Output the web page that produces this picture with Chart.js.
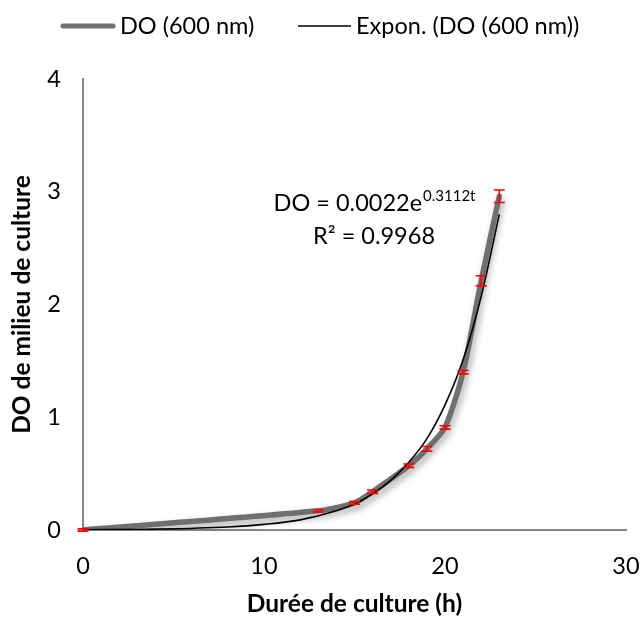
<!DOCTYPE html>
<html><head><meta charset="utf-8">
<script src="https://cdn.jsdelivr.net/npm/chart.js@4/dist/chart.umd.min.js"></script>
<style>html,body{margin:0;padding:0;background:#fff}#wrap{width:642px;height:619px;position:relative}</style>
</head><body><div id="wrap"><canvas id="c"></canvas></div>
<script>
// ---- data ----
const hours = [0, 13, 15, 16, 18, 19, 20, 21, 22, 23];
const odValues = [0, 0.17, 0.24, 0.34, 0.57, 0.72, 0.91, 1.40, 2.21, 2.96];
const odErrors = [0.01, 0.01, 0.012, 0.015, 0.015, 0.02, 0.015, 0.015, 0.045, 0.055];
const trendHours = [0, 4, 8, 10, 12, 14, 15, 16, 17, 18, 19, 20, 21, 22, 23];
const trendValues = [0.002, 0.008, 0.027, 0.05, 0.09, 0.17, 0.23, 0.32, 0.44, 0.6, 0.81, 1.11, 1.51, 2.07, 2.8];
const xTicks = [0, 10, 20, 30];
const yTicks = [0, 1, 2, 3, 4];
const seriesNames = ['DO (600 nm)', 'Expon. (DO (600 nm))'];
const xTitle = 'Durée de culture (h)';
const yTitle = 'DO de milieu de culture';
const eqMain = 'DO = 0.0022e';
const eqSup = '0.3112t';
const eqR2 = 'R² = 0.9968';

const FONT = 'Lato, "Open Sans", sans-serif';
const FS = 23.5;
const FT = 24.5;
Chart.defaults.font.family = FONT;
Chart.defaults.font.size = FS;
Chart.defaults.color = '#000';

const odPoints = hours.map((h, i) => ({x: h, y: odValues[i]}));
const trendPoints = trendHours.map((h, i) => ({x: h, y: trendValues[i]}));

const shadowPlugin = {
  id: 'shadow',
  beforeDatasetDraw(chart, args) {
    if (args.index === 0) {
      const ctx = chart.ctx; ctx.save();
      ctx.shadowColor = 'rgba(0,0,0,0.35)';
      ctx.shadowBlur = 7; ctx.shadowOffsetX = 2; ctx.shadowOffsetY = 4;
    }
  },
  afterDatasetDraw(chart, args) {
    if (args.index === 0) chart.ctx.restore();
  }
};

const errorBarPlugin = {
  id: 'errorBars',
  afterDatasetsDraw(chart) {
    const ctx = chart.ctx, xs = chart.scales.x, ys = chart.scales.y;
    ctx.save();
    ctx.strokeStyle = '#ff0000'; ctx.lineWidth = 1.6;
    hours.forEach((h, i) => {
      const px = xs.getPixelForValue(h);
      const top = ys.getPixelForValue(odValues[i] + odErrors[i]);
      const bot = ys.getPixelForValue(odValues[i] - odErrors[i]);
      ctx.beginPath();
      ctx.moveTo(px, top); ctx.lineTo(px, bot);
      ctx.moveTo(px - 5.5, top); ctx.lineTo(px + 5.5, top);
      ctx.moveTo(px - 5.5, bot); ctx.lineTo(px + 5.5, bot);
      ctx.stroke();
    });
    ctx.restore();
  }
};

const annotPlugin = {
  id: 'annot',
  afterDraw(chart) {
    const ctx = chart.ctx, a = chart.chartArea;
    ctx.save();
    ctx.fillStyle = '#000';
    ctx.textBaseline = 'middle';
    // equation
    ctx.font = FS + 'px ' + FONT;
    const w1 = ctx.measureText(eqMain).width;
    ctx.font = '15px ' + FONT;
    const w2 = ctx.measureText(eqSup).width;
    const cx = a.left + (a.right - a.left) * 0.536;
    const x0 = cx - (w1 + w2) / 2;
    const y1 = a.top + 124;
    ctx.font = FS + 'px ' + FONT;
    ctx.textAlign = 'left';
    ctx.fillText(eqMain, x0, y1);
    ctx.font = '15px ' + FONT;
    ctx.fillText(eqSup, x0 + w1 + 1, y1 - 7);
    ctx.font = FS + 'px ' + FONT;
    ctx.textAlign = 'center';
    ctx.fillText(eqR2, cx, y1 + 33);
    // legend
    const ly = 26;
    ctx.lineCap = 'round';
    ctx.strokeStyle = '#6f6f6f'; ctx.lineWidth = 5;
    ctx.beginPath(); ctx.moveTo(63, ly); ctx.lineTo(113, ly); ctx.stroke();
    ctx.lineCap = 'butt';
    ctx.strokeStyle = '#000'; ctx.lineWidth = 1.5;
    ctx.beginPath(); ctx.moveTo(298, ly); ctx.lineTo(351, ly); ctx.stroke();
    ctx.textAlign = 'left';
    ctx.fillText(seriesNames[0], 120, ly);
    ctx.fillText(seriesNames[1], 356, ly);
    ctx.restore();
  }
};

new Chart(document.getElementById('c'), {
  type: 'line',
  data: {
    datasets: [
      {label: seriesNames[0], data: odPoints, borderColor: '#6f6f6f', borderWidth: 5.5,
       pointRadius: 0, tension: 0.25, borderCapStyle: 'round', borderJoinStyle: 'round', order: 2},
      {label: seriesNames[1], data: trendPoints, borderColor: '#000', borderWidth: 1.6,
       pointRadius: 0, cubicInterpolationMode: 'monotone', order: 1}
    ]
  },
  options: {
    responsive: true, maintainAspectRatio: false, animation: false,
    layout: {padding: {top: 79, right: 16, left: 0, bottom: 0}},
    plugins: {legend: {display: false}, tooltip: {enabled: false}},
    scales: {
      x: {type: 'linear', min: 0, max: 30,
        afterBuildTicks(s) { s.ticks = xTicks.map(v => ({value: v})); },
        ticks: {padding: 22, color: '#000', font: {size: FS}, maxRotation: 0},
        grid: {display: false, drawTicks: false},
        border: {display: true, color: '#868686', width: 2},
        title: {display: true, text: xTitle, font: {size: FT, weight: 'bold'}, color: '#000', padding: {top: 0, bottom: 0}},
        afterFit(s) { s.height = 89; s.paddingRight = 0; s.paddingLeft = 0; }
      },
      y: {type: 'linear', min: 0, max: 4,
        afterBuildTicks(s) { s.ticks = yTicks.map(v => ({value: v})); },
        ticks: {padding: 22, color: '#000', font: {size: FS}},
        grid: {display: false, drawTicks: false},
        border: {display: true, color: '#868686', width: 2},
        title: {display: true, text: yTitle, font: {size: FT, weight: 'bold'}, color: '#000', padding: {top: 7, bottom: 0}},
        afterFit(s) { s.width = 83; s.paddingTop = 0; s.paddingBottom = 0; }
      }
    }
  },
  plugins: [shadowPlugin, errorBarPlugin, annotPlugin]
});
</script>
</body></html>
